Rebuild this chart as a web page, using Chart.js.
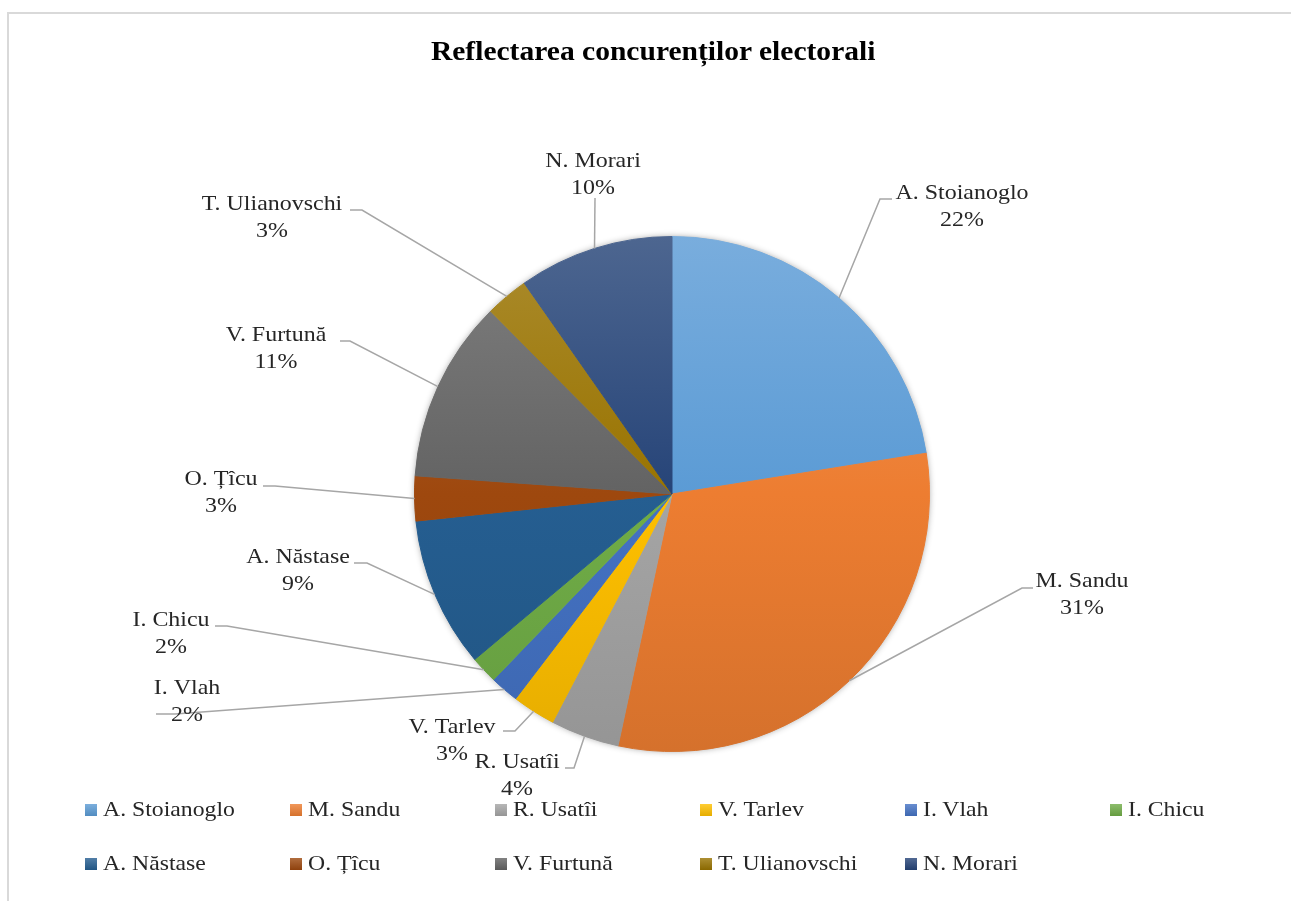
<!DOCTYPE html>
<html>
<head>
<meta charset="utf-8">
<script src="https://cdn.jsdelivr.net/npm/chart.js@4.4.1/dist/chart.umd.min.js"></script>
<style>
  body { margin: 0; background: #fff; font-family: "Liberation Serif", "Times New Roman", serif; }
  #frame { position: absolute; left: 7px; top: 12px; width: 1290px; height: 900px; border: 2px solid #d9d9d9; box-sizing: border-box; }
  #title { position: absolute; left: 0; width: 1306px; top: 38px; text-align: center; font-weight: bold; font-size: 27px; line-height: 27px; color: #000; }
  #title span { display: inline-block; transform: scaleX(1.094); }
  #chart { position: absolute; left: 0; top: 0; }
  .leg { position: absolute; font-size: 21px; line-height: 21px; color: #262626; white-space: nowrap; }
  .leg i { position: absolute; width: 12px; height: 12px; left: 0; }
  .leg span { position: absolute; left: 18px; top: 0; transform: scaleX(1.13); transform-origin: left center; }
</style>
</head>
<body>
<div id="frame"></div>
<canvas id="chart" width="1291" height="901"></canvas>
<div id="title"><span>Reflectarea concurenților electorali</span></div>
<div id="legend"></div>
<script>
// chart data
const candidates = ['A. Stoianoglo', 'M. Sandu', 'R. Usatîi', 'V. Tarlev', 'I. Vlah', 'I. Chicu',
    'A. Năstase', 'O. Țîcu', 'V. Furtună', 'T. Ulianovschi', 'N. Morari'];
const shares = [22.4, 30.8, 4.3, 2.7, 1.8, 1.7, 9.4, 2.8, 11.4, 2.7, 9.7];
const colors = ['#5B9BD5', '#ED7D31', '#A5A5A5', '#FFC000', '#4472C4', '#70AD47',
    '#255E91', '#9E480E', '#636363', '#997300', '#264478'];

// where each data label sits (text centre x, first-line baseline y, leader elbow, stub end x)
const labelLayout = [
    { tx: 962, ty: 199, ex: 880, ey: 199, sx: 892 },
    { tx: 1082, ty: 587, ex: 1022, ey: 588, sx: 1033 },
    { tx: 517, ty: 768, ex: 574, ey: 768, sx: 565 },
    { tx: 452, ty: 733, ex: 515, ey: 731, sx: 503 },
    { tx: 187, ty: 694, ex: 175, ey: 714, sx: 156 },
    { tx: 171, ty: 626, ex: 227, ey: 626, sx: 215 },
    { tx: 298, ty: 563, ex: 367, ey: 563, sx: 354 },
    { tx: 221, ty: 485, ex: 275, ey: 486, sx: 263 },
    { tx: 276, ty: 341, ex: 350, ey: 341, sx: 340 },
    { tx: 272, ty: 210, ex: 362, ey: 210, sx: 350 },
    { tx: 593, ty: 167, ex: 595, ey: 198, sx: 595 }
];

function shade(hex, amt) {
    const n = parseInt(hex.slice(1), 16);
    let r = n >> 16, g = (n >> 8) & 255, b = n & 255;
    const t = amt > 0 ? 255 : 0, a = Math.abs(amt);
    r = Math.round(r + (t - r) * a);
    g = Math.round(g + (t - g) * a);
    b = Math.round(b + (t - b) * a);
    return `rgb(${r},${g},${b})`;
}

function sliceFill(c) {
    const col = colors[c.dataIndex];
    const area = c.chart.chartArea;
    if (!area) return col;
    const g = c.chart.ctx.createLinearGradient(0, area.top, 0, area.bottom);
    g.addColorStop(0, shade(col, 0.18));
    g.addColorStop(0.5, col);
    g.addColorStop(1, shade(col, -0.1));
    return g;
}

const totalShare = shares.reduce((a, b) => a + b, 0);

// soft shadow under the pie
const pieShadow = {
    id: 'pieShadow',
    beforeDatasetsDraw(chart) {
        const arc = chart.getDatasetMeta(0).data[0];
        if (!arc) return;
        const { x, y, outerRadius } = arc.getProps(['x', 'y', 'outerRadius'], true);
        const ctx = chart.ctx;
        ctx.save();
        ctx.shadowColor = 'rgba(0,0,0,0.45)';
        ctx.shadowBlur = 7;
        ctx.fillStyle = '#fff';
        ctx.beginPath();
        ctx.arc(x, y, outerRadius - 1, 0, Math.PI * 2);
        ctx.fill();
        ctx.restore();
    }
};

function stretchedText(ctx, text, x, y) {
    ctx.save();
    ctx.translate(x, y);
    ctx.scale(1.14, 1);
    ctx.fillText(text, 0, 0);
    ctx.restore();
}

// Excel style outside labels with leader lines
const outsideLabels = {
    id: 'outsideLabels',
    afterDatasetsDraw(chart) {
        const ctx = chart.ctx;
        const meta = chart.getDatasetMeta(0);
        meta.data.forEach((el, i) => {
            const p = el.getProps(['x', 'y', 'startAngle', 'endAngle', 'outerRadius'], true);
            const mid = (p.startAngle + p.endAngle) / 2;
            const ax = p.x + Math.cos(mid) * p.outerRadius;
            const ay = p.y + Math.sin(mid) * p.outerRadius;
            const L = labelLayout[i];
            ctx.save();
            ctx.strokeStyle = '#a6a6a6';
            ctx.lineWidth = 1.5;
            ctx.beginPath();
            ctx.moveTo(ax, ay);
            ctx.lineTo(L.ex, L.ey);
            ctx.lineTo(L.sx, L.ey);
            ctx.stroke();
            ctx.fillStyle = '#262626';
            ctx.font = '21px "Liberation Serif", "Times New Roman", serif';
            ctx.textAlign = 'center';
            ctx.textBaseline = 'alphabetic';
            stretchedText(ctx, candidates[i], L.tx, L.ty);
            stretchedText(ctx, Math.round(shares[i] / totalShare * 100) + '%', L.tx, L.ty + 27);
            ctx.restore();
        });
    }
};

new Chart(document.getElementById('chart'), {
    type: 'pie',
    data: {
        labels: candidates,
        datasets: [{
            data: shares,
            backgroundColor: sliceFill,
            borderColor: sliceFill,
            borderWidth: 1
        }]
    },
    options: {
        responsive: false,
        animation: false,
        layout: { padding: { top: 236, bottom: 149, left: 414, right: 361 } },
        plugins: {
            legend: { display: false },
            tooltip: { enabled: false },
            title: { display: false }
        }
    },
    plugins: [pieShadow, outsideLabels]
});

// legend, two rows in a fixed column grid
const legend = document.getElementById('legend');
candidates.forEach((name, i) => {
    const row = Math.floor(i / 6), colIdx = i % 6;
    const item = document.createElement('div');
    item.className = 'leg';
    item.style.left = (85 + colIdx * 205) + 'px';
    item.style.top = (799 + row * 54) + 'px';
    const sw = document.createElement('i');
    sw.style.top = '5px';
    sw.style.background = `linear-gradient(${shade(colors[i], 0.2)}, ${shade(colors[i], -0.1)})`;
    const txt = document.createElement('span');
    txt.textContent = name;
    item.appendChild(sw);
    item.appendChild(txt);
    legend.appendChild(item);
});
</script>
</body>
</html>
